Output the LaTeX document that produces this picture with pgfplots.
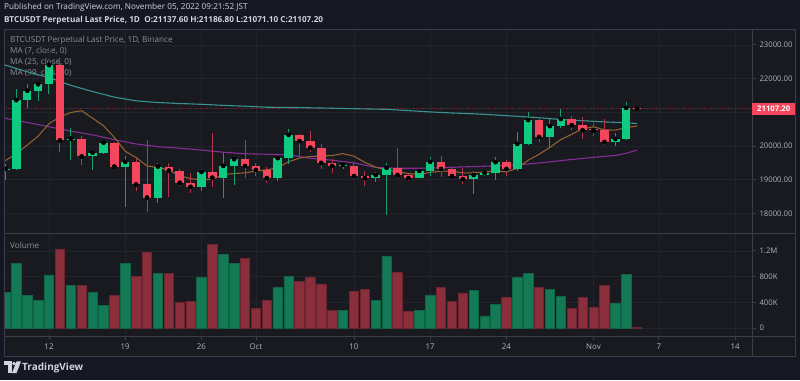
\documentclass[border=0pt]{standalone}
\usepackage{pgfplots}
\pgfplotsset{compat=1.18}
\usepackage{pgfplotstable}
\usepackage{fontspec}
\setmainfont{Open Sans}
\definecolor{outerbg}{HTML}{151823}
\definecolor{chartbg}{HTML}{181A20}
\definecolor{gridc}{HTML}{21242C}
\definecolor{framec}{HTML}{3A3E49}
\definecolor{tickc}{HTML}{B2B5BE}
\definecolor{legc}{HTML}{8A8E97}
\definecolor{hdr}{HTML}{D1D4DC}
\definecolor{upc}{HTML}{0ECB81}
\definecolor{dnc}{HTML}{F6465D}
\definecolor{upwick}{HTML}{179E6B}
\definecolor{dnwick}{HTML}{B3364B}
\definecolor{vup}{HTML}{137A55}
\definecolor{vupd}{HTML}{0F6446}
\definecolor{vdn}{HTML}{8B2E3C}
\definecolor{vdnd}{HTML}{6E2430}
\definecolor{maseven}{HTML}{8F6230}
\definecolor{matwfive}{HTML}{862D96}
\definecolor{manine}{HTML}{3A9391}
\definecolor{pline}{HTML}{73293A}

\pgfplotstableread{
d o h l c
8 19290 19470 18990 19325
9 19320 21680 19290 21360
10 21360 21840 21120 21640
11 21640 21880 21340 21830
12 21830 22420 21530 22400
14 20170 20530 19590 20220
16 19690 19880 19290 19800
17 19800 20180 19760 20100
19 19390 19690 18200 19530
22 18470 19500 18320 19390
26 18790 19320 18670 19230
28 19060 19790 18460 19410
29 19410 19650 18830 19610
33 19050 19730 18960 19640
34 19640 20500 19470 20330
39 19415 19530 19320 19445
42 19050 19230 18930 19140
43 19140 19500 17950 19350
46 19050 19350 19040 19260
47 19260 19680 19110 19530
51 19020 19250 18580 19140
52 19140 19260 19110 19200
53 19200 19680 18990 19520
55 19320 20420 19260 20060
56 20060 21010 20030 20770
58 20270 20800 19940 20590
59 20590 21100 20530 20800
64 20120 20390 20000 20210
65 20210 21310 20180 21130
}\upcandles

\pgfplotstableread{
d o h l c
13 22400 22610 19830 20170
15 20220 20300 19440 19690
18 20100 20110 19320 19390
20 19530 19640 18670 18860
21 18860 20180 18050 18470
23 19390 19500 18490 19270
24 19270 19320 18810 18910
25 18910 19200 18620 18790
27 19230 20380 18780 19060
30 19610 20180 19050 19410
31 19410 19500 19110 19290
32 19290 19380 18900 19050
35 20330 20360 19670 20150
36 20150 20450 19820 19950
37 19950 20060 19320 19500
38 19500 19610 19200 19410
40 19410 19500 19020 19110
41 19110 19260 18810 19050
44 19350 19940 19050 19140
45 19140 19170 18960 19050
48 19530 19700 19080 19320
49 19320 19350 19060 19110
50 19110 19350 18870 19020
54 19520 19590 19110 19320
57 20770 20860 20120 20270
60 20800 20890 20480 20620
61 20620 20860 20210 20470
62 20490 20680 20300 20460
63 20470 20800 20030 20120
66 21137.6 21186.8 21071.1 21107.2
}\dncandles

\pgfplotstableread{
d v
8 549000
9 1001000
10 503000
11 431000
12 825000
14 669000
16 560000
17 348000
19 1000000
22 856000
26 783000
28 1147000
29 1000000
33 628000
34 804000
39 280000
42 425000
43 1116000
46 280000
47 514000
51 587000
52 187000
53 368000
55 783000
56 846000
58 607000
59 493000
64 379000
65 835000
}\volup

\pgfplotstableread{
d v
13 1230000
15 669000
18 503000
20 799000
21 1180000
23 846000
24 394000
25 420000
27 1307000
30 1080000
31 311000
32 425000
35 731000
36 794000
37 685000
38 270000
40 565000
41 607000
44 867000
45 260000
48 638000
49 415000
50 545000
54 482000
57 628000
60 306000
61 482000
62 327000
63 659000
66 12000
}\voldn

\pgfplotstableread{
d m
8 19567
9 19769
10 20029
11 20291
12 20663
13 20860
14 20994
15 21047
16 20824
17 20603
18 20254
19 19844
20 19657
21 19406
22 19363
23 19287
24 19117
25 19031
26 18989
27 19017
28 19151
29 19183
30 19203
31 19257
32 19294
33 19353
34 19534
35 19640
36 19689
37 19701
38 19719
39 19774
40 19699
41 19516
42 19371
43 19286
44 19234
45 19183
46 19157
47 19217
48 19256
49 19251
50 19204
51 19204
52 19226
53 19263
54 19233
55 19339
56 19576
57 19754
58 19961
59 20190
60 20347
61 20511
62 20571
63 20479
64 20470
65 20547
66 20591
}\maA

\pgfplotstableread{
d m
7.87 20850
8 20820
10 20700
12 20570
14 20440
16 20330
18 20190
20 20060
22 19980
24 19935
26 19880
28 19815
30 19770
32 19755
34 19740
36 19634
38 19580
40 19500
42 19365
44 19340
46 19340
48 19355
50 19380
52 19400
54 19420
56 19465
58 19530
60 19600
62 19664
64 19720
65 19783
66 19881
}\maB

\pgfplotstableread{
d m
7.87 22420
8 22400
10 22200
12 22030
14 21800
16 21615
18 21450
20 21340
22 21290
24 21260
26 21237
28 21205
30 21180
32 21150
35 21140
38 21120
41 21100
43 21088
45 21050
47 21010
49 20980
51 20955
53 20920
55 20880
57 20840
59 20785
61 20750
63 20715
65 20690
66 20665
}\maC

\begin{document}
\begin{tikzpicture}[x=1pt,y=1pt]
% backgrounds
\fill[outerbg] (0,0) rectangle (800,380);
\fill[chartbg] (4,24) rectangle (795,351);
\coordinate (pricesw) at (4,147);
\coordinate (volsw) at (4,44);
% header
\node[anchor=west, inner sep=0, font=\fontsize{8.2}{9}\selectfont, text=hdr] at (4,373) {Published on TradingView.com, November 05, 2022 09:21:52 JST};
\node[anchor=west, inner sep=0, font=\bfseries\fontsize{8.2}{9}\selectfont, text=hdr] at (4,360) {BTCUSDT Perpetual Last Price, 1D\ \ O:21137.60 H:21186.80 L:21071.10 C:21107.20};
% legend
\begin{scope}[every node/.style={anchor=west, inner sep=0, font=\fontsize{8.2}{9}\selectfont, text=legc}]
\node at (10,340) {BTCUSDT Perpetual Last Price, 1D, Binance};
\node at (10,329) {MA (7, close, 0)};
\node at (10,318) {MA (25, close, 0)};
\node at (10,307) {MA (99, close, 0)};
\node at (10,135) {Volume};
\end{scope}

\pgfplotsset{
  tvaxis/.style={
    scale only axis, width=748pt, anchor=south west,
    xmin=7.868, xmax=76.555,
    axis line style={draw=none},
    xtick={12,19,26,31,40,47,54,62,68,75},
    xmajorgrids, ymajorgrids,
    grid style={color=gridc, line width=0.6pt},
    tick align=outside, major tick length=4pt,
    ytick pos=right, yticklabel pos=right,
    scaled y ticks=false,
    tick style={color=framec, line width=0.8pt},
    yticklabel style={font=\fontsize{7.7}{9}\selectfont, text=tickc, anchor=west},
    xticklabel style={font=\fontsize{7.9}{9}\selectfont, text=tickc},
  }
}

% price panel
\begin{axis}[tvaxis, at={(pricesw)}, height=204pt,
  ymin=17419, ymax=23471,
  ytick={18000,19000,20000,21000,22000,23000},
  yticklabels={18000.00,19000.00,20000.00,{},22000.00,23000.00},
  xticklabels={}, xtick style={draw=none}]
\addplot[pline, line width=0.8pt, dash pattern=on 0.8pt off 1pt] coordinates {(7.868,21107.2) (76.555,21107.2)};
\addplot[manine, line width=1.1pt] table[x=d,y=m] {\maC};
\addplot[matwfive, line width=1.1pt] table[x=d,y=m] {\maB};
\addplot[maseven, line width=1.1pt] table[x=d,y=m] {\maA};
% wicks
\addplot[only marks, mark=none, error bars/.cd, y dir=both, y explicit, error mark=none,
  error bar style={line width=1pt, color=upwick}]
  table[x=d, y=c, y error plus expr=\thisrow{h}-\thisrow{c}, y error minus expr=\thisrow{c}-\thisrow{l}] {\upcandles};
\addplot[only marks, mark=none, error bars/.cd, y dir=both, y explicit, error mark=none,
  error bar style={line width=1pt, color=dnwick}]
  table[x=d, y=c, y error plus expr=\thisrow{h}-\thisrow{c}, y error minus expr=\thisrow{c}-\thisrow{l}] {\dncandles};
% bodies
\addplot[only marks, mark=none, error bars/.cd, y dir=minus, y explicit, error mark=none,
  error bar style={line width=8.5pt, color=upc}]
  table[x=d, y=c, y error minus expr=\thisrow{c}-\thisrow{o}] {\upcandles};
\addplot[only marks, mark=none, error bars/.cd, y dir=plus, y explicit, error mark=none,
  error bar style={line width=8.5pt, color=dnc}]
  table[x=d, y=c, y error plus expr=\thisrow{o}-\thisrow{c}] {\dncandles};
\coordinate (plabel) at (axis cs:76.555,21107.2);
\end{axis}

% volume panel
\begin{axis}[tvaxis, at={(volsw)}, height=103pt,
  ymin=-124500, ymax=1478600,
  ytick={0,400000,800000,1200000},
  yticklabels={0,400K,800K,1.2M},
  xtick pos=bottom, xticklabel pos=bottom,
  xticklabels={12,19,26,Oct,10,17,24,Nov,7,14}]
\addplot[ybar, bar width=9.4pt, bar shift=0pt, fill=vup, draw=vupd, line width=0.6pt] table[x=d,y=v] {\volup};
\addplot[ybar, bar width=9.4pt, bar shift=0pt, fill=vdn, draw=vdnd, line width=0.6pt] table[x=d,y=v] {\voldn};
\end{axis}

% frame
\draw[framec, line width=0.8pt] (4,24) rectangle (795,351);
\draw[framec, line width=0.8pt] (752,24) -- (752,351);
\draw[framec, line width=0.8pt] (4,147) -- (795,147);
\draw[framec, line width=0.8pt] (4,44) -- (795,44);
% last price label
\node[anchor=west, fill=dnc, text=white, inner sep=0, minimum width=43pt, minimum height=11.7pt,
  font=\bfseries\fontsize{7.7}{9}\selectfont] at (plabel) {21107.20};
% TradingView logo
\fill[hdr] (4,15) rectangle (11.5,18.5);
\fill[hdr] (8,7) rectangle (11.5,15);
\fill[hdr] (14,16.5) circle (1.8);
\fill[hdr] (16.5,18.5) -- (21,18.5) -- (16.5,7) -- (12,7) -- cycle;
\node[anchor=west, inner sep=0, font=\bfseries\fontsize{10}{11}\selectfont, text=hdr] at (22,12.5) {TradingView};
\end{tikzpicture}
\end{document}
